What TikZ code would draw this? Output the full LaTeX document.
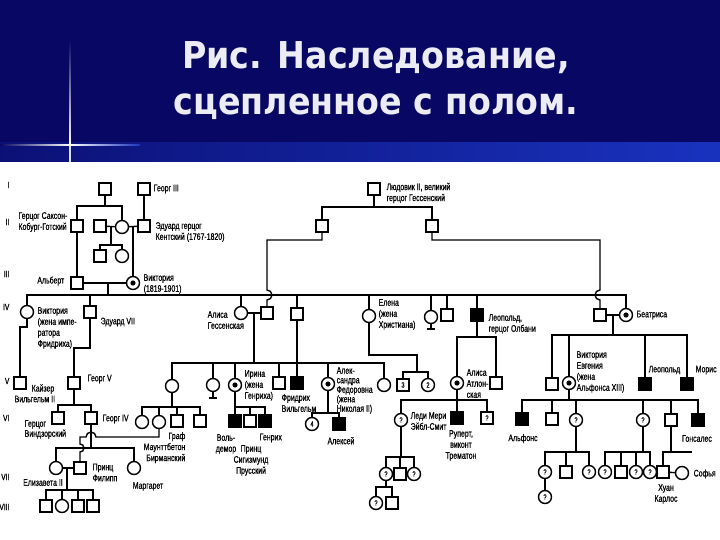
\documentclass[tikz,border=0pt]{standalone}
\usepackage{fontspec}
\newfontfamily\lblfont[FakeStretch=0.73,FakeBold=0.6]{Liberation Sans}
\newfontfamily\ttlfont[FakeStretch=0.9]{DejaVu Sans}
\definecolor{bandblue}{RGB}{8,8,100}
\definecolor{stripblue}{RGB}{25,50,190}
\definecolor{ttlgray}{RGB}{236,236,244}

\begin{document}
\begin{tikzpicture}[x=1pt,y=-1pt,line width=1.4pt,
    m/.style={draw,minimum size=12pt,inner sep=0pt,fill=white,font=\lblfont\fontsize{7.5}{8}\selectfont},
    ma/.style={m,fill=black},
    f/.style={draw,circle,minimum size=13pt,inner sep=0pt,fill=white,font=\lblfont\fontsize{7.5}{8}\selectfont},
    fc/.style={f},
    lb/.style={font=\lblfont\fontsize{9.5}{11}\selectfont,inner sep=0pt,align=left},
    gen/.style={font=\lblfont\fontsize{9}{11}\selectfont,inner sep=0pt,anchor=east},
    bar/.style={line width=2.5pt}]
    \useasboundingbox (0,0) rectangle (720,540);
    \fill[white] (0,0) rectangle (720,540);
    \fill[bandblue] (0,0) rectangle (720,162);
    \shade[left color=bandblue!80!stripblue,right color=stripblue] (0,143) rectangle (720,162);
    \shade[top color=bandblue,bottom color=white] (69.4,40) rectangle (70.6,145);
    \fill[white!85!stripblue] (69.4,145) rectangle (70.6,162);
    \shade[left color=bandblue,right color=white] (0,144.4) rectangle (70,145.6);
    \shade[left color=white,right color=stripblue] (70,144.4) rectangle (140,145.6);
    \fill[white] (70,145) circle (1.6);
    \node[font=\ttlfont\bfseries\fontsize{37}{46}\selectfont,text=ttlgray,align=center] (title) at (376,81) {Рис. Наследование,\\сцепленное с полом.};

    \foreach \g/\y in {I/185,II/222,III/274,IV/307,V/381,VI/418,VII/477,VIII/507}
      \node[gen] (gen\g) at (10,\y) {\g};

    \node[m] (gI1) at (105,189) {};
    \node[m] (georg3) at (144,189) {};
    \node[lb,anchor=west] (georg3L) at (153,189) {Георг III};
    \node[m] (ludwig2) at (374,189) {};
    \node[lb,anchor=west] (ludwig2L) at (386,193) {Людовик II, великий\\герцог Гессенский};

    \node[m] (saxe) at (77,226) {};
    \node[lb,anchor=east] (saxeL) at (68,222) {Герцог Саксон-\\Кобург-Готский};
    \node[m] (gII2) at (100,226) {};
    \node[f] (gII3) at (122,227) {};
    \node[m] (edKent) at (144,226) {};
    \node[lb,anchor=west] (edKentL) at (155,232) {Эдуард герцог\\Кентский (1767-1820)};
    \node[m] (hesseA) at (322,226) {};
    \node[m] (hesseB) at (432,226) {};

    \node[m] (gIII1) at (100,256) {};
    \node[f] (gIII2) at (122,256) {};
    \node[m] (albert) at (77,283) {};
    \node[lb,anchor=east] (albertL) at (65,281) {Альберт};
    \node[fc] (victoria) at (133,283) {};
    \node[lb,anchor=west] (victoriaL) at (143,284) {Виктория\\(1819-1901)};

    \node[f] (vicE) at (27,312) {};
    \node[lb,anchor=north west] (vicEL) at (37,306.5) {Виктория\\(жена импе-\\ратора\\Фридриха)};
    \node[m] (edw7) at (90,312) {};
    \node[lb,anchor=west] (edw7L) at (100,322) {Эдуард VII};
    \node[f] (alice) at (241,313) {};
    \node[lb,anchor=north west] (aliceL) at (207,310.5) {Алиса\\Гессенская};
    \node[m] (ludwig4) at (267,313) {};
    \node[m] (gIV4) at (297,314) {};
    \node[f] (helena) at (369,316) {};
    \node[lb,anchor=north west] (helenaL) at (378,298.5) {Елена\\(жена\\Христиана)};
    \node[f] (gIV6) at (431,317) {};
    \node[m] (gIV7) at (447,315) {};
    \node[ma] (leopold) at (477,315) {};
    \node[lb,anchor=north west] (leopoldL) at (488,313.5) {Леопольд,\\герцог Олбани};
    \node[m] (henry) at (600,315) {};
    \node[fc] (beatrice) at (626,315) {};
    \node[lb,anchor=west] (beatriceL) at (636,315) {Беатриса};

    \node[m] (kaiser) at (20,383) {};
    \node[lb,anchor=west] (kaiserL) at (31,389) {Кайзер};
    \node[lb,anchor=west] (kaiserL2) at (14,399) {Вильгельм II};
    \node[m] (georg5) at (74,383) {};
    \node[lb,anchor=west] (georg5L) at (87,379) {Георг V};
    \node[f] (vicMH) at (172,386) {};
    \node[f] (ella) at (213,385) {};
    \node[fc] (irene) at (235,385) {};
    \node[lb,anchor=north west] (ireneL) at (244,369.5) {Ирина\\(жена\\Генриха)};
    \node[m] (ernst) at (279,383) {};
    \node[ma] (fw) at (297,383) {};
    \node[lb,anchor=north west] (fwL) at (281,393.5) {Фридрих\\Вильгельм};
    \node[fc] (alix) at (328,384) {};
    \node[lb,anchor=north west,font=\lblfont\fontsize{9.5}{9.5}\selectfont] (alixL) at (336,366.5) {Алек-\\сандра\\Федоровна\\(жена\\Николая II)};
    \node[f] (maria) at (384,385) {};
    \node[m] (n3) at (403,385) {3};
    \node[f] (n2) at (428,385) {2};
    \node[fc] (aliceA) at (457,383) {};
    \node[lb,anchor=north west] (aliceAL) at (466,368.5) {Алиса\\Атлон-\\ская};
    \node[m] (gV14) at (496,383) {};
    \node[m] (gV15) at (552,384) {};
    \node[fc] (vicEu) at (569,383) {};
    \node[lb,anchor=north west] (vicEuL) at (576,350.5) {Виктория\\Евгения\\(жена\\Альфонса XIII)};
    \node[ma] (leopoldB) at (645,384) {};
    \node[lb,anchor=west] (leopoldBL) at (648,370) {Леопольд};
    \node[ma] (maurice) at (687,384) {};
    \node[lb,anchor=west] (mauriceL) at (695,370) {Морис};

    \node[m] (windsor) at (58,418) {};
    \node[lb,anchor=north west,font=\lblfont\fontsize{9.5}{10}\selectfont] (windsorL) at (24,419.5) {Герцог\\Виндзорский};
    \node[m] (georg6) at (91,418) {};
    \node[lb,anchor=west] (georg6L) at (102,419) {Георг IV};
    \node[f] (gVI3) at (142,422) {};
    \node[f] (aliceB) at (159,422) {};
    \node[m] (gVI5) at (177,421) {};
    \node[m] (mountb) at (200,421) {};
    \node[lb,anchor=north east,align=right] (mountbL) at (186,431.5) {Граф\\Маунттбетон\\Бирманский};
    \node[ma] (waldemar) at (235,421) {};
    \node[m] (sigism) at (250,421) {};
    \node[ma] (heinrich) at (265,421) {};
    \node[lb,anchor=north,align=center] (waldemarL) at (226,433.5) {Воль-\\демор};
    \node[lb,anchor=north,align=center] (sigismL) at (251,444.5) {Принц\\Сигизмунд\\Прусский};
    \node[lb,anchor=west] (heinrichL) at (259,438) {Генрих};
    \node[f] (n4) at (312,424) {4};
    \node[ma] (alexei) at (339,424) {};
    \node[lb,anchor=north] (alexeiL) at (341,436.5) {Алексей};
    \node[f] (lmary) at (401,420) {?};
    \node[lb,anchor=north west] (lmaryL) at (410,411.5) {Леди Мери\\Эйбл-Смит};
    \node[ma] (rupert) at (457,418) {};
    \node[lb,anchor=north,align=center] (rupertL) at (461,429.5) {Руперт,\\виконт\\Трематон};
    \node[m] (gVI12) at (487,418) {?};
    \node[ma] (alfonso) at (522,419) {};
    \node[lb,anchor=north] (alfonsoL) at (523,433.5) {Альфонс};
    \node[m] (gVI14) at (552,419) {};
    \node[f] (gVI15) at (576,420) {?};
    \node[f] (gVI16) at (643,420) {?};
    \node[m] (gVI17) at (671,420) {};
    \node[ma] (gonzalo) at (698,420) {};
    \node[lb,anchor=north] (gonzaloL) at (697,434.5) {Гонсалес};

    \node[f] (eliz) at (56,468) {};
    \node[lb,anchor=north] (elizL) at (43,478.5) {Елизавета II};
    \node[m] (philip) at (80,468) {};
    \node[lb,anchor=north west] (philipL) at (92,463) {Принц\\Филипп};
    \node[f] (margaret) at (134,468) {};
    \node[lb,anchor=north] (margaretL) at (148,481.5) {Маргарет};
    \node[f] (gVII4) at (386,474) {?};
    \node[m] (gVII5) at (400,474) {};
    \node[f] (gVII6) at (414,474) {?};
    \node[f] (gVII7) at (545,472) {?};
    \node[m] (gVII8) at (566,472) {};
    \node[f] (gVII9) at (589,472) {?};
    \node[f] (gVII10) at (605,472) {?};
    \node[m] (gVII11) at (621,472) {};
    \node[f] (gVII12) at (636,472) {?};
    \node[f] (gVII13) at (650,472) {?};
    \node[m] (juan) at (663,472) {};
    \node[f] (sofia) at (682,473) {};
    \node[lb,anchor=west] (sofiaL) at (693,474) {Софья};
    \node[lb,anchor=north,align=center] (juanL) at (666,483.5) {Хуан\\Карлос};

    \node[m] (gVIII1) at (46,506) {};
    \node[f] (gVIII2) at (62,506) {};
    \node[m] (gVIII3) at (78,506) {};
    \node[m] (gVIII4) at (93,506) {};
    \node[f] (gVIII5) at (376,503) {?};
    \node[m] (gVIII6) at (392,503) {};
    \node[f] (gVIII7) at (545,497) {?};

    \foreach \n in {victoria,beatrice,irene,alix,aliceA,vicEu}
      \fill (\n) circle (2.6);

    \coordinate (sI) at (105,206);
    \coordinate (mII) at (111,226);
    \coordinate (sII) at (111,245);
    \coordinate (mII2) at (133,226);
    \coordinate (mIII) at (108,283);
    \coordinate (sIV) at (108,295);
    \coordinate (sH) at (374,207);
    \coordinate (hA) at (322,240);
    \coordinate (hB) at (432,240);
    \coordinate (hopL) at (267,290);
    \coordinate (hopR) at (600,290);
    \coordinate (mIVa) at (254,313);
    \coordinate (sVa) at (254,363);
    \coordinate (hel1) at (417,355);
    \coordinate (sVh) at (417,372);
    \coordinate (ellaB) at (213,398);
    \coordinate (gIV6B) at (431,329);
    \coordinate (sVl) at (477,337);
    \coordinate (mIVb) at (613,315);
    \coordinate (sVb) at (613,335);
    \coordinate (vk1) at (27,327);
    \coordinate (vk2) at (20,327);
    \coordinate (eg) at (90,348);
    \coordinate (sVIg) at (74,405);
    \coordinate (sVIv) at (172,407);
    \coordinate (sVIi) at (235,407);
    \coordinate (sVIx) at (328,413);
    \coordinate (sVIa) at (457,400);
    \coordinate (sVIe) at (569,400);
    \coordinate (sVIIg) at (91,448);
    \coordinate (ab1) at (159,437);
    \coordinate (hop1) at (96,437);
    \coordinate (ph1) at (80,437);
    \coordinate (hop2) at (80,444);
    \coordinate (mVII) at (67,468);
    \coordinate (sVIIIe) at (67,490);
    \coordinate (sVIIm) at (401,457);
    \coordinate (sVIIIm) at (386,487);
    \coordinate (sVIIs1) at (576,452);
    \coordinate (sVIIs2) at (643,452);
    \coordinate (sVIIs3) at (671,452);
    \coordinate (sVIIs3e) at (692,452);

    \draw (gI1) -- (sI);
    \draw (saxe) |- (sI) -| (gII3);
    \draw (georg3) -- (edKent);
    \draw (gII2) -- (gII3);
    \draw (gII3) -- (edKent);
    \draw (mII) -- (sII);
    \draw (gIII1) |- (sII) -| (gIII2);
    \draw (mII2) -- (victoria);
    \draw (saxe) -- (albert);
    \draw (albert) -- (victoria);
    \draw (mIII) -- (sIV);
    \draw (vicE) |- (sIV) -| (beatrice);
    \foreach \n in {edw7,alice,gIV4,helena,gIV6,gIV7,leopold}
      \draw (\n) -- (\n |- sIV);

    \draw (ludwig2) -- (sH);
    \draw (hesseA) |- (sH) -| (hesseB);
    \draw (hesseA) -- (hA) -| (hopL) arc (-90:90:5) -- (ludwig4);
    \draw (hesseB) -- (hB) -| (hopR) arc (-90:-270:5) -- (henry);
    \draw (alice) -- (ludwig4);
    \draw (henry) -- (beatrice);

    \draw (mIVa) -- (sVa);
    \draw (vicMH) |- (sVa) -| (maria);
    \foreach \n in {ella,irene,ernst,alix}
      \draw (\n) -- (\n |- sVa);
    \draw (gIV4) -- (fw);
    \draw (helena) |- (hel1) -- (sVh);
    \draw (n3) |- (sVh) -| (n2);
    \draw (ella) -- (ellaB);
    \draw[bar] ([xshift=-4pt]ellaB) -- ([xshift=4pt]ellaB);
    \draw (gIV6) -- (gIV6B);
    \draw[bar] ([xshift=-4pt]gIV6B) -- ([xshift=4pt]gIV6B);
    \draw (leopold) -- (sVl);
    \draw (aliceA) |- (sVl) -| (gV14);
    \draw (mIVb) -- (sVb);
    \draw (gV15) |- (sVb) -| (maurice);
    \foreach \n in {vicEu,leopoldB}
      \draw (\n) -- (\n |- sVb);

    \draw (vicE) -- (vk1) -- (vk2) -- (kaiser);
    \draw (edw7) -- (eg) -| (georg5);
    \draw (georg5) -- (sVIg);
    \draw (windsor) |- (sVIg) -| (georg6);
    \draw (vicMH) -- (sVIv);
    \draw (gVI3) |- (sVIv) -| (mountb);
    \foreach \n in {aliceB,gVI5}
      \draw (\n) -- (\n |- sVIv);
    \draw (irene) -- (waldemar);
    \draw (sVIi) -| (heinrich);
    \draw (sigism) -- (sigism |- sVIi);
    \draw (alix) -- (sVIx);
    \draw (n4) |- (sVIx) -| (alexei);
    \draw (aliceA) -- (rupert);
    \draw (lmary) |- (sVIa) -| (gVI12);
    \draw (vicEu) -- (sVIe);
    \draw (alfonso) |- (sVIe) -| (gonzalo);
    \foreach \n in {gVI14,gVI15,gVI16,gVI17}
      \draw (\n) -- (\n |- sVIe);

    \draw (georg6) -- (sVIIg);
    \draw (eliz) |- (sVIIg) -| (margaret);
    \draw (aliceB) -- (ab1) -- (hop1) arc (0:-180:5) -- (ph1) -- (hop2) arc (-90:90:4) -- (philip);
    \draw (eliz) -- (philip);
    \draw (mVII) -- (sVIIIe);
    \draw (gVIII1) |- (sVIIIe) -| (gVIII4);
    \foreach \n in {gVIII2,gVIII3}
      \draw (\n) -- (\n |- sVIIIe);
    \draw (lmary) -- (sVIIm);
    \draw (gVII4) |- (sVIIm) -| (gVII6);
    \draw (gVII5) -- (gVII5 |- sVIIm);
    \draw (gVII4) -- (sVIIIm);
    \draw (gVIII5) |- (sVIIIm) -| (gVIII6);
    \draw (gVI15) -- (sVIIs1);
    \draw (gVII7) |- (sVIIs1) -| (gVII9);
    \draw (gVII8) -- (gVII8 |- sVIIs1);
    \draw (gVII7) -- (gVIII7);
    \draw (gVI16) -- (sVIIs2);
    \draw (gVII10) |- (sVIIs2) -| (gVII13);
    \foreach \n in {gVII11,gVII12}
      \draw (\n) -- (\n |- sVIIs2);
    \draw (gVI17) -- (sVIIs3);
    \draw (juan) |- (sVIIs3) -- (sVIIs3e);
    \draw (juan) -- (sofia);
\end{tikzpicture}
\end{document}
